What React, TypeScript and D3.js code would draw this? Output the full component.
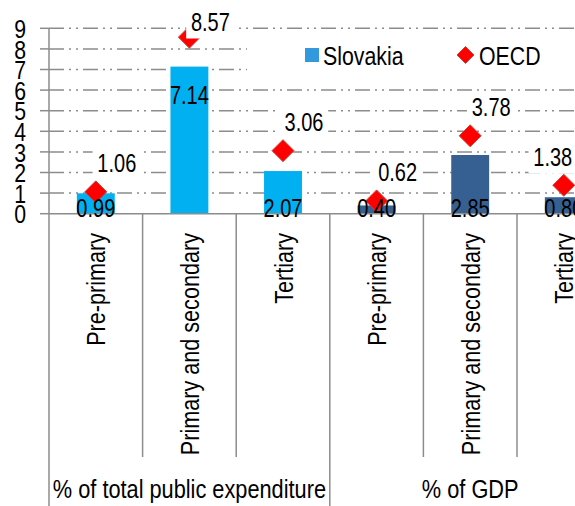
import React from "react";
import * as d3 from "d3";

// education spending, Slovakia vs OECD
const levels = [
  "Pre-primary",
  "Primary and secondary",
  "Tertiary",
  "Pre-primary",
  "Primary and secondary",
  "Tertiary",
];
const groupOf = [0, 0, 0, 1, 1, 1];
const groups = ["% of total public expenditure", "% of GDP"];
const slovakia = [0.99, 7.14, 2.07, 0.4, 2.85, 0.8];
const oecd = [1.06, 8.57, 3.06, 0.62, 3.78, 1.38];
const yTicks = [0, 1, 2, 3, 4, 5, 6, 7, 8, 9];

const width = 575;
const height = 506;
const font = "'Liberation Sans', Arial, sans-serif";
const barColors = ["#00b0f0", "#376092"];
const gray = "#8c8c8c";
const fmt = d3.format(".2f");

function Diamond({ cx, cy, r }: { cx: number; cy: number; r: number }) {
  return (
    <path
      d={`M${cx},${cy - r}L${cx + r},${cy}L${cx},${cy + r}L${cx - r},${cy}Z`}
      fill="#ff0000"
      stroke="#c9463d"
      strokeWidth={1}
    />
  );
}

// the source uses a narrow face, so squeeze Liberation Sans sideways
function T({
  x,
  y,
  anchor = "middle",
  rotate = 0,
  size = 25,
  sx = 0.82,
  children,
}: {
  x: number;
  y: number;
  anchor?: string;
  rotate?: number;
  size?: number;
  sx?: number;
  children: React.ReactNode;
}) {
  return (
    <text
      transform={`translate(${x},${y}) rotate(${rotate}) scale(${sx},1)`}
      textAnchor={anchor}
      dominantBaseline="central"
      fontSize={size}
    >
      {children}
    </text>
  );
}

export default function App() {
  const plotLeft = 49;
  const step = 93.6;
  const plotRight = plotLeft + step * levels.length;

  const x = d3
    .scaleBand<number>()
    .domain(levels.map((_, i) => i))
    .range([plotLeft, plotRight])
    .paddingInner(0.595)
    .paddingOuter(0.2975);

  const y = d3.scaleLinear().domain([0, 9]).range([213.7, 28.3]);
  const base = y(0);
  const center = (i: number) => (x(i) as number) + x.bandwidth() / 2;
  const edge = (i: number) => plotLeft + i * x.step();

  const charW = 25 * 0.556 * 0.8;

  return (
    <svg
      width={width}
      height={height}
      style={{ position: "absolute", left: 0, top: 0, background: "#fff" }}
      fontFamily={font}
    >
      {/* grid */}
      {yTicks.map((t) => (
        <g key={t}>
          <line x1={40} x2={plotLeft} y1={y(t)} y2={y(t)} stroke={gray} strokeWidth={1.5} />
          {t > 0 && (
            <line
              x1={plotLeft}
              x2={plotRight}
              y1={y(t)}
              y2={y(t)}
              stroke={gray}
              strokeWidth={1.5}
              strokeDasharray="15,5,2,5,2,5"
            />
          )}
          <T x={26} y={y(t) + 1} anchor="end" sx={0.85}>
            {t}
          </T>
        </g>
      ))}

      {/* legend box hides the grid behind it */}
      <rect x={247} y={35} width={plotRight - 247} height={43} fill="#fff" />
      <rect x={305} y={48} width={14} height={14} fill="#3399dd" />
      <T x={323} y={56} anchor="start" size={26}>
        Slovakia
      </T>
      <Diamond cx={465.5} cy={55} r={8.5} />
      <T x={479} y={56} anchor="start" size={26}>
        OECD
      </T>

      {/* bars */}
      {slovakia.map((v, i) => (
        <rect
          key={i}
          x={x(i)}
          y={y(v)}
          width={x.bandwidth()}
          height={base - y(v)}
          fill={barColors[groupOf[i]]}
        />
      ))}

      {/* axes and category separators */}
      <line x1={plotLeft} x2={plotRight} y1={base} y2={base} stroke={gray} strokeWidth={1.5} />
      <line x1={plotLeft} x2={plotLeft} y1={y(9)} y2={height} stroke={gray} strokeWidth={1.5} />
      {levels.map((_, i) => {
        const xe = edge(i + 1);
        const groupEnd = i === levels.length - 1 || groupOf[i + 1] !== groupOf[i];
        return (
          <line key={i} x1={xe} x2={xe} y1={base} y2={groupEnd ? height : 457} stroke={gray} strokeWidth={1.5} />
        );
      })}

      {/* OECD markers */}
      {oecd.map((v, i) => (
        <Diamond key={i} cx={center(i)} cy={y(v)} r={11} />
      ))}

      {/* Slovakia labels */}
      {slovakia.map((v, i) => (
        <T key={i} x={center(i)} y={v > 5 ? y(v) + 29 : base - 5} sx={0.8}>
          {fmt(v)}
        </T>
      ))}

      {/* OECD labels with white boxes */}
      {oecd.map((v, i) => {
        const label = fmt(v);
        const halfW = (label.length * charW) / 2 + 2;
        const lx = Math.min(center(i) + 21, width + 2 - halfW);
        const ly = Math.max(y(v) - 28, 22.5);
        return (
          <g key={i}>
            <rect x={lx - halfW} y={ly - 16} width={halfW * 2} height={32} fill="#fff" />
            <T x={lx} y={ly} sx={0.8}>
              {label}
            </T>
          </g>
        );
      })}

      {/* rotated category labels */}
      {levels.map((d, i) => (
        <T key={i} x={center(i) + 1} y={233} anchor="end" rotate={-90} sx={0.865}>
          {d}
        </T>
      ))}

      {/* group labels */}
      {groups.map((g, gi) => {
        const idx = levels.map((_, i) => i).filter((i) => groupOf[i] === gi);
        const gx = (edge(idx[0]) + edge(idx[idx.length - 1] + 1)) / 2;
        return (
          <T key={g} x={gx} y={489} sx={0.87}>
            {g}
          </T>
        );
      })}
    </svg>
  );
}
